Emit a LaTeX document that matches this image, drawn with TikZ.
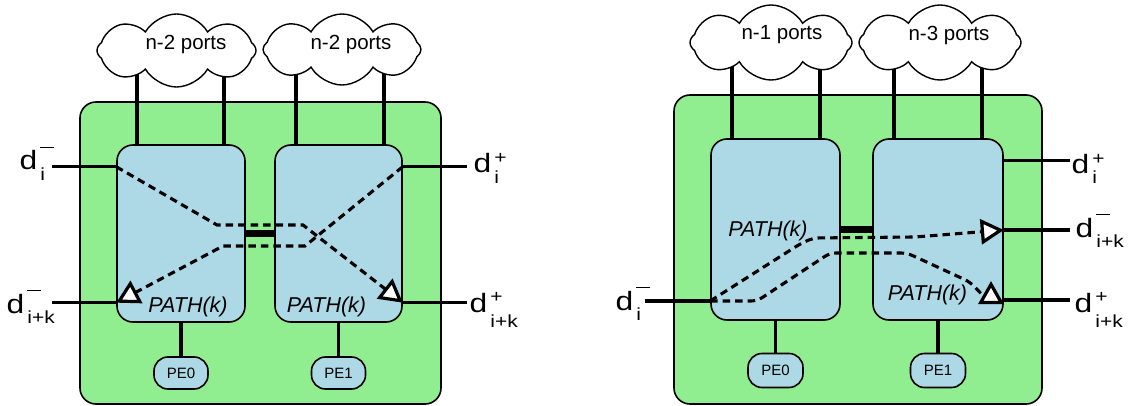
\documentclass[tikz,border=0pt]{standalone}
\usepackage{fontspec}
\setmainfont{Liberation Sans}
\usetikzlibrary{shapes.symbols,arrows.meta,calc}
\pgfdeclarelayer{bg}
\pgfsetlayers{bg,main}
\definecolor{chipgreen}{HTML}{90EE90}
\definecolor{boxblue}{HTML}{ADD8E6}
% #1 superscript, #2 raise, #3 subscript, #4 drop
\newcommand\dlbl[4]{\scalebox{1.2}[1]{{\fontsize{26.5}{26.5}\selectfont d}\hspace{2.5pt}{\fontsize{17.5}{17.5}\selectfont\rlap{\raisebox{#2}{#1}}\raisebox{-#4}{#3}}}}
\newcommand\supminus{\rule{11pt}{1.3pt}}
\begin{document}
\begin{tikzpicture}[x=1pt,y=-1pt,
  chip/.style={draw, line width=1.6pt, fill=chipgreen, rounded corners=16pt, inner sep=0},
  sw/.style={draw, line width=1.6pt, fill=boxblue, rounded corners=16pt, inner sep=0},
  pe/.style={draw, line width=1.6pt, fill=boxblue, rounded corners=14pt, inner sep=0, font=\fontsize{15}{15}\selectfont},
  cloudn/.style={cloud, cloud puffs=8, cloud puff arc=120, draw, line width=1.4pt, fill=white, inner sep=0},
  cloudtxt/.style={font=\fontsize{20.5}{20.5}\selectfont},
  port/.style={line width=3.5pt},
  bar/.style={line width=7pt},
  flow/.style={line width=3.1pt, dash pattern=on 7.5pt off 5pt},
  tri/.style={-{Triangle[fill=white,length=23pt,width=25pt,line width=3.2pt]}},
  dl/.style={inner sep=0, anchor=base west},
  pathlbl/.style={inner sep=0, anchor=base, font=\fontsize{21.5}{21.5}\selectfont\itshape}
]
\useasboundingbox (0,0) rectangle (1134,406);

\begin{pgfonlayer}{bg}
\node[chip, minimum width=361pt, minimum height=302pt] (gL) at (260.5,253) {};
\node[chip, minimum width=368pt, minimum height=309pt] (gR) at (858,249.5) {};
\end{pgfonlayer}

% ---------- left diagram ----------
\node[sw, minimum width=128pt, minimum height=177pt] (bL) at (181,233.5) {};
\node[sw, minimum width=127pt, minimum height=177pt] (bR) at (338.5,233.5) {};
\node[cloudn, minimum width=159pt, minimum height=73pt,
      label={[cloudtxt, xshift=9.5pt, yshift=6.5pt]center:n-2 ports}] (cA) at (176.5,50.5) {};
\node[cloudn, minimum width=158pt, minimum height=71pt,
      label={[cloudtxt, xshift=9pt, yshift=5.5pt]center:n-2 ports}] (cB) at (342,49.5) {};
\node[pe, minimum width=54pt, minimum height=32pt] (pe0) at (181,373) {PE0};
\node[pe, minimum width=54pt, minimum height=32pt] (pe1) at (338.5,373) {PE1};

\coordinate (t1) at ([xshift=21pt]bL.north west);
\coordinate (t2) at ([xshift=108pt]bL.north west);
\coordinate (t3) at ([xshift=22pt]bR.north west);
\coordinate (t4) at ([xshift=110pt]bR.north west);
\begin{pgfonlayer}{bg}
\draw[port] (t1) -- (t1 |- cA.center);
\draw[port] (t2) -- (t2 |- cA.center);
\draw[port] (t3) -- (t3 |- cB.center);
\draw[port] (t4) -- (t4 |- cB.center);
\end{pgfonlayer}
\draw[port] (bL.south) -- (pe0.north);
\draw[port] (bR.south) -- (pe1.north);
\draw[bar] (bL.east) -- (bR.west);

\coordinate (pA) at (52,166.7);
\coordinate (pB) at (52,302.7);
\coordinate (pC) at (467,166.7);
\coordinate (pD) at (467,302.7);
\draw[port] (pA) -- (pA -| bL.west);
\draw[port] (pB) -- (pB -| bL.west);
\draw[port] (pC) -- (pC -| bR.east);
\draw[port] (pD) -- (pD -| bR.east);

\node[dl] (lA) at (19.5,170) {\dlbl{\supminus}{22pt}{i}{10pt}};
\node[dl] (lB) at (6.5,313) {\dlbl{\supminus}{22pt}{i+k}{10pt}};
\node[dl] (lC) at (473.5,173) {\dlbl{+}{9.5pt}{i}{10pt}};
\node[dl] (lD) at (469.5,312) {\dlbl{+}{9.5pt}{i+k}{15pt}};

\draw[flow, tri] (pA -| bL.west) -- (217,225) -- (303,225) -- (pD -| bR.east);
\draw[flow, tri] (pC -| bR.east) -- (305,246) -- (223,246) -- (pB -| bL.west);

\node[pathlbl] (kL) at (188,312) {PATH(k)};
\node[pathlbl] (kR) at (326.5,312) {PATH(k)};

% ---------- right diagram ----------
\node[sw, minimum width=129pt, minimum height=181pt] (bL2) at (775.5,229.5) {};
\node[sw, minimum width=130pt, minimum height=181pt] (bR2) at (938,229.5) {};
\node[cloudn, minimum width=162pt, minimum height=75pt,
      label={[cloudtxt, xshift=11pt, yshift=7.5pt]center:n-1 ports}] (cC) at (771,42.5) {};
\node[cloudn, minimum width=162pt, minimum height=75pt,
      label={[cloudtxt, xshift=9pt, yshift=7.5pt]center:n-3 ports}] (cD) at (940,42.5) {};
\node[pe, minimum width=55pt, minimum height=34pt] (pe2) at (775.5,370.5) {PE0};
\node[pe, minimum width=55pt, minimum height=34pt] (pe3) at (938,370.5) {PE1};

\coordinate (u1) at ([xshift=22pt]bL2.north west);
\coordinate (u2) at ([xshift=110pt]bL2.north west);
\coordinate (u3) at ([xshift=22pt]bR2.north west);
\coordinate (u4) at ([xshift=110pt]bR2.north west);
\begin{pgfonlayer}{bg}
\draw[port] (u1) -- (u1 |- cC.center);
\draw[port] (u2) -- (u2 |- cC.center);
\draw[port] (u3) -- (u3 |- cD.center);
\draw[port] (u4) -- (u4 |- cD.center);
\end{pgfonlayer}
\draw[port] (bL2.south) -- (pe2.north);
\draw[port] (bR2.south) -- (pe3.north);
\draw[bar] (bL2.east) -- (bR2.west);

\coordinate (pE) at (645,301);
\coordinate (pF) at (1070,160.7);
\coordinate (pG) at (1070,230);
\coordinate (pH) at (1070,300);
\draw[port] (pE) -- (pE -| bL2.west);
\draw[port] (pF) -- (pF -| bR2.east);
\draw[port] (pG) -- (pG -| bR2.east);
\draw[port] (pH) -- (pH -| bR2.east);

\node[dl] (lE) at (615.5,310) {\dlbl{\supminus}{22pt}{i}{10pt}};
\node[dl] (lF) at (1071.5,174) {\dlbl{+}{9.5pt}{i}{10pt}};
\node[dl] (lG) at (1075.5,237) {\dlbl{\supminus}{22pt}{i+k}{10pt}};
\node[dl] (lH) at (1074.5,312) {\dlbl{+}{9.5pt}{i+k}{15pt}};

\draw[flow, tri, rounded corners=6pt] (pE -| bL2.west) -- (800,244) -- (813,238) -- (915,237) -- (pG -| bR2.east);
\draw[flow, tri, rounded corners=6pt] (pE -| bL2.west) -- (757,301) -- (830,253) -- (907,253) -- (970,282) -- (991,304) -- (991,281);

\node[pathlbl] (kL2) at (768,236) {PATH(k)};
\node[pathlbl] (kR2) at (927.5,300.5) {PATH(k)};
\end{tikzpicture}
\end{document}
